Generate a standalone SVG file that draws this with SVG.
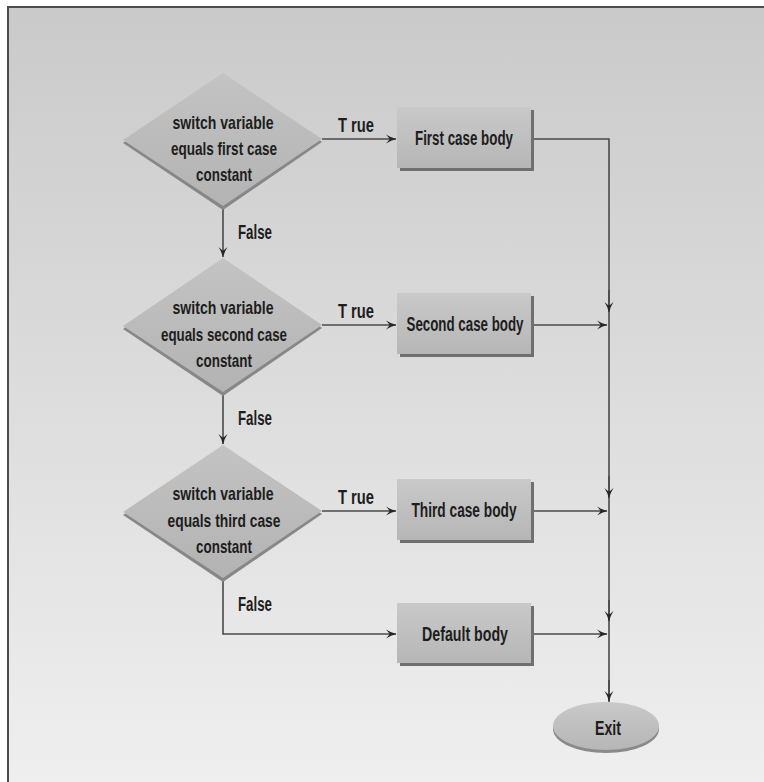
<svg xmlns="http://www.w3.org/2000/svg" width="764" height="782" viewBox="0 0 764 782">
  <defs>
    <linearGradient id="bg" x1="0" y1="0" x2="0" y2="1">
      <stop offset="0" stop-color="#cacaca"/>
      <stop offset="1" stop-color="#efefef"/>
    </linearGradient>
    <linearGradient id="face" x1="0" y1="0" x2="0" y2="1">
      <stop offset="0" stop-color="#c9c9c9"/>
      <stop offset="1" stop-color="#b6b6b6"/>
    </linearGradient>
    <linearGradient id="diaFace" x1="0" y1="0" x2="0" y2="1">
      <stop offset="0" stop-color="#c3c3c3"/>
      <stop offset="1" stop-color="#b3b3b3"/>
    </linearGradient>
    <marker id="barb" viewBox="-11 -5 12 10" refX="0" refY="0" markerWidth="12" markerHeight="10" markerUnits="userSpaceOnUse" orient="auto">
      <path d="M0.5,0 Q-5,-1.2 -10,-4.5 Q-6.5,-0.6 -6.5,0 Q-6.5,0.6 -10,4.5 Q-5,1.2 0.5,0 Z" fill="#262626"/>
    </marker>
    <style>
      .lbl { font-family: "Liberation Sans", Arial, sans-serif; font-weight: bold; font-size: 19.5px; fill: #1d1d1d; text-anchor: middle; }
      .dlbl { font-size: 19px; }
      .wire { fill: none; stroke: #4a4a4a; stroke-width: 1.6; }
      .arrow { marker-end: url(#barb); }
      .extrude { fill: #878787; }
      .diamond { fill: url(#diaFace); }
      .box { fill: url(#face); }
      .shade { fill: #6f6f6f; }
    </style>
  </defs>

  <!-- page background and frame -->
  <rect x="0" y="0" width="764" height="782" fill="#ffffff"/>
  <rect x="8" y="7" width="756" height="775" fill="url(#bg)"/>
  <path d="M8,782 V7 H764" fill="none" stroke="#4c4c4c" stroke-width="2"/>

  <!-- connectors -->
  <g id="connectors">
    <!-- true branches -->
    <path class="wire arrow" d="M322,139 H396"/>
    <path class="wire arrow" d="M322,325 H396"/>
    <path class="wire arrow" d="M322,511 H396"/>
    <!-- false branches -->
    <path class="wire arrow" d="M223,207 V257"/>
    <path class="wire arrow" d="M223,393 V444"/>
    <path class="wire arrow" d="M223,578 V634 H396"/>
    <!-- case bodies to the common exit line -->
    <path class="wire" d="M533,139 H609 V702"/>
    <path class="wire arrow" d="M533,325 H607"/>
    <path class="wire arrow" d="M533,511 H607"/>
    <path class="wire arrow" d="M533,634 H607"/>
    <!-- arrowheads along the exit line -->
    <path class="wire arrow" d="M609,290 V312"/>
    <path class="wire arrow" d="M609,476 V498"/>
    <path class="wire arrow" d="M609,600 V621"/>
    <path class="wire arrow" d="M609,680 V701"/>
  </g>

  <!-- decision: first case -->
  <g id="dec1">
    <path class="extrude" d="M223,76 L322,142 L223,210 L123,143 Z"/>
    <path class="diamond" d="M223,73 L322,139 L223,206 L123,140 Z"/>
    <text class="lbl dlbl" x="223" y="129" textLength="101" lengthAdjust="spacingAndGlyphs">switch variable</text>
    <text class="lbl dlbl" x="224" y="155" textLength="106" lengthAdjust="spacingAndGlyphs">equals first case</text>
    <text class="lbl dlbl" x="224" y="181" textLength="56" lengthAdjust="spacingAndGlyphs">constant</text>
  </g>

  <!-- decision: second case -->
  <g id="dec2">
    <path class="extrude" d="M223,261 L322,328 L223,396 L123,329 Z"/>
    <path class="diamond" d="M223,258 L322,325 L223,392 L123,326 Z"/>
    <text class="lbl dlbl" x="223" y="314" textLength="101" lengthAdjust="spacingAndGlyphs">switch variable</text>
    <text class="lbl dlbl" x="224" y="340.5" textLength="126" lengthAdjust="spacingAndGlyphs">equals second case</text>
    <text class="lbl dlbl" x="224" y="366.5" textLength="56" lengthAdjust="spacingAndGlyphs">constant</text>
  </g>

  <!-- decision: third case -->
  <g id="dec3">
    <path class="extrude" d="M223,448 L322,514 L223,582 L123,515 Z"/>
    <path class="diamond" d="M223,445 L322,511 L223,578 L123,512 Z"/>
    <text class="lbl dlbl" x="223" y="500" textLength="101" lengthAdjust="spacingAndGlyphs">switch variable</text>
    <text class="lbl dlbl" x="224" y="526.5" textLength="113" lengthAdjust="spacingAndGlyphs">equals third case</text>
    <text class="lbl dlbl" x="224" y="552.5" textLength="56" lengthAdjust="spacingAndGlyphs">constant</text>
  </g>

  <!-- branch labels -->
  <g id="labels">
    <text class="lbl" x="356" y="132" textLength="36" lengthAdjust="spacingAndGlyphs">T rue</text>
    <text class="lbl" x="356" y="318" textLength="36" lengthAdjust="spacingAndGlyphs">T rue</text>
    <text class="lbl" x="356" y="504" textLength="36" lengthAdjust="spacingAndGlyphs">T rue</text>
    <text class="lbl" x="255" y="239" textLength="34" lengthAdjust="spacingAndGlyphs">False</text>
    <text class="lbl" x="255" y="425" textLength="34" lengthAdjust="spacingAndGlyphs">False</text>
    <text class="lbl" x="255" y="611" textLength="34" lengthAdjust="spacingAndGlyphs">False</text>
  </g>

  <!-- case bodies -->
  <g id="body1">
    <rect class="shade" x="400" y="110" width="134" height="61"/>
    <rect class="box" x="397" y="107" width="134" height="61"/>
    <text class="lbl" x="464" y="145" textLength="98" lengthAdjust="spacingAndGlyphs">First case body</text>
  </g>
  <g id="body2">
    <rect class="shade" x="400" y="296" width="134" height="61"/>
    <rect class="box" x="397" y="293" width="134" height="61"/>
    <text class="lbl" x="465" y="331" textLength="117" lengthAdjust="spacingAndGlyphs">Second case body</text>
  </g>
  <g id="body3">
    <rect class="shade" x="400" y="482" width="134" height="61"/>
    <rect class="box" x="397" y="479" width="134" height="61"/>
    <text class="lbl" x="464" y="517" textLength="105" lengthAdjust="spacingAndGlyphs">Third case body</text>
  </g>
  <g id="bodyDefault">
    <rect class="shade" x="400" y="606" width="134" height="60"/>
    <rect class="box" x="397" y="603" width="134" height="60"/>
    <text class="lbl" x="465" y="641" textLength="86" lengthAdjust="spacingAndGlyphs">Default body</text>
  </g>

  <!-- terminal -->
  <g id="exit">
    <ellipse cx="606" cy="729" rx="53" ry="24" fill="#8a8a8a"/>
    <ellipse cx="606" cy="726" rx="53" ry="24" fill="url(#face)"/>
    <text class="lbl" x="608" y="735" textLength="26" lengthAdjust="spacingAndGlyphs">Exit</text>
  </g>
</svg>
